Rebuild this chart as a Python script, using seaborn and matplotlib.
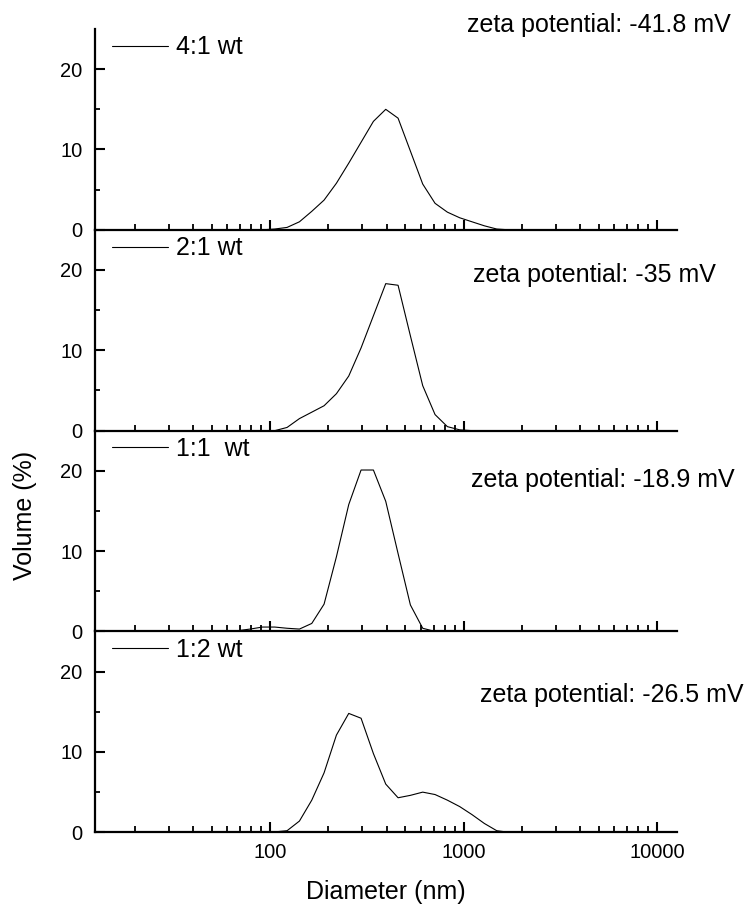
import matplotlib
matplotlib.use("Agg")
import matplotlib.pyplot as plt
import numpy as np
import pandas as pd
import seaborn as sns
from matplotlib.ticker import FixedLocator, LogLocator, NullFormatter

sns.set_style("ticks")
plt.rcParams['font.family'] = ['Liberation Sans', 'DejaVu Sans']
plt.rcParams['text.color'] = 'black'
plt.rcParams['axes.labelcolor'] = 'black'
plt.rcParams['xtick.color'] = 'black'
plt.rcParams['ytick.color'] = 'black'
plt.rcParams['axes.edgecolor'] = 'black'

# ---------------- data ----------------
diameter_nm = [58.77, 68.06, 78.82, 91.28, 105.7, 122.4, 141.8, 164.2, 190.1,
               220.2, 255.0, 295.3, 342.0, 396.1, 458.7, 531.2, 615.1, 712.4,
               825.0, 955.4, 1106, 1281, 1484, 1718]

vol_4_1 = [0, 0, 0, 0, 0.1, 0.3, 1.0, 2.3, 3.7, 5.8, 8.3, 10.9, 13.5, 15.0,
           13.9, 9.8, 5.7, 3.3, 2.2, 1.5, 1.0, 0.5, 0.1, 0]
vol_2_1 = [0, 0, 0, 0, 0, 0.4, 1.5, 2.3, 3.1, 4.6, 6.8, 10.3, 14.3, 18.3,
           18.1, 11.8, 5.6, 2.0, 0.5, 0.1, 0, 0, 0, 0]
vol_1_1 = [0, 0.1, 0.3, 0.55, 0.55, 0.4, 0.3, 1.0, 3.4, 9.3, 15.8, 20.1, 20.1,
           16.2, 9.7, 3.3, 0.4, 0, 0, 0, 0, 0, 0, 0]
vol_1_2 = [0, 0, 0, 0, 0.05, 0.2, 1.4, 4.0, 7.4, 12.1, 14.8, 14.2, 9.8, 6.0,
           4.3, 4.6, 5.0, 4.7, 4.0, 3.2, 2.2, 1.1, 0.2, 0]

series = [vol_4_1, vol_2_1, vol_1_1, vol_1_2]
legend_labels = ["4:1 wt", "2:1 wt", "1:1  wt", "1:2 wt"]
zeta_labels = ["zeta potential: -41.8 mV", "zeta potential: -35 mV",
               "zeta potential: -18.9 mV", "zeta potential: -26.5 mV"]
x_major_ticks = [100, 1000, 10000]
x_tick_labels = ["100", "1000", "10000"]
y_major_ticks = [0, 10, 20]
y_minor_ticks = [5, 15]

# ---------------- layout ----------------
W, H = 754, 907
left_px, right_px, top_px, bottom_px = 95, 677, 29, 832.3
ph = (bottom_px - top_px) / 4
zeta_pos = [(0.639, 1.02), (0.6495, 0.776), (0.646, 0.756), (0.6615, 0.686)]

fig = plt.figure(figsize=(W / 100, H / 100), dpi=100)

for i, vals in enumerate(series):
    ax = fig.add_axes([left_px / W, 1 - (top_px + (i + 1) * ph) / H,
                       (right_px - left_px) / W, ph / H])
    df = pd.DataFrame({"Diameter": diameter_nm, "Volume": vals})
    sns.lineplot(data=df, x="Diameter", y="Volume", ax=ax, color="black",
                 linewidth=0.8, label=legend_labels[i])
    ax.set_xscale("log")
    ax.set_xlim(12.44, 12690)
    ax.set_ylim(0, 25)
    ax.set_xlabel("")
    ax.set_ylabel("")
    ax.patch.set_alpha(0)

    for s in ["top", "right"]:
        ax.spines[s].set_visible(False)
    for s in ["left", "bottom"]:
        ax.spines[s].set_linewidth(1.6)
        ax.spines[s].set_color("black")

    ax.xaxis.set_major_locator(FixedLocator(x_major_ticks))
    ax.xaxis.set_minor_locator(LogLocator(base=10, subs=np.arange(2, 10)))
    ax.xaxis.set_minor_formatter(NullFormatter())
    if i == 3:
        ax.set_xticklabels(x_tick_labels)
    else:
        ax.set_xticklabels([])
    ax.set_yticks(y_major_ticks)
    ax.set_yticks(y_minor_ticks, minor=True)
    ax.set_yticklabels([str(v) for v in y_major_ticks])

    ax.tick_params(axis="x", which="major", direction="in", length=7.5,
                   width=1.5, labelsize=14.5, pad=7.5, color="black",
                   labelcolor="black")
    ax.tick_params(axis="x", which="minor", direction="in", length=4,
                   width=1.3, color="black")
    ax.tick_params(axis="y", which="major", direction="in", length=7.2,
                   width=1.5, labelsize=14.5, pad=9, color="black",
                   labelcolor="black")
    ax.tick_params(axis="y", which="minor", direction="in", length=3.6,
                   width=1.3, color="black")

    leg = ax.legend(loc="center left",
                    bbox_to_anchor=((112 - left_px) / (right_px - left_px),
                                    1 - 18.5 / ph),
                    frameon=False, fontsize=18, handlelength=2.24,
                    handletextpad=0.32, borderpad=0, borderaxespad=0)
    for ln in leg.get_lines():
        ln.set_linewidth(0.8)
        ln.set_color("black")
    for t in leg.get_texts():
        t.set_color("black")

    ax.text(zeta_pos[i][0], zeta_pos[i][1], zeta_labels[i],
            transform=ax.transAxes, fontsize=18, ha="left", va="center",
            clip_on=False, color="black")

fig.text(25 / W, 1 - 515 / H, "Volume (%)", rotation=90, fontsize=18,
         ha="center", va="center", color="black")
fig.text(386 / W, 1 - 892 / H, "Diameter (nm)", fontsize=18,
         ha="center", va="center", color="black")

fig.savefig("out.png", dpi=100)
